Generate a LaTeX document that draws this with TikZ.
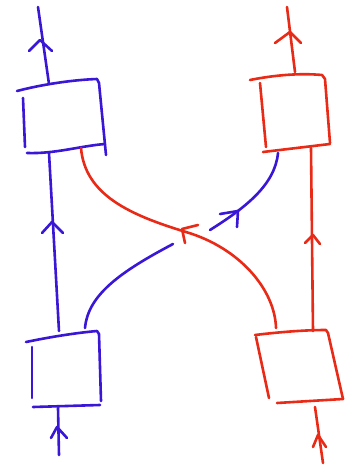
\documentclass[tikz,border=0pt]{standalone}
\definecolor{inkblue}{RGB}{58,22,214}
\definecolor{inkred}{RGB}{232,42,22}
\tikzset{
  pen/.style={line width=2.6pt, line cap=round, line join=round},
  bluepen/.style={pen, draw=inkblue},
  redpen/.style={pen, draw=inkred},
}
\begin{document}
\begin{tikzpicture}[x=1pt,y=-1pt]
\useasboundingbox (0,0) rectangle (353,465);
% named coordinates
\coordinate (bTopEnd) at (38,7);
\coordinate (bTLtop) at (49,84);
\coordinate (bTLbot) at (49,153);
\coordinate (bBLtop) at (59,331);
\coordinate (bBLcurve) at (85,328);
\coordinate (bBLbot) at (58,408);
\coordinate (bBotEnd) at (59,455);
\coordinate (bGapA) at (173,244);
\coordinate (bGapB) at (210,230);
\coordinate (bTRbot) at (278,153);
\coordinate (rTopEnd) at (287,7);
\coordinate (rTRtop) at (295,72);
\coordinate (rTRbot) at (311,148);
\coordinate (rBRtop) at (313,331);
\coordinate (rBRcurve) at (276,328);
\coordinate (rTLcurve) at (81,148);
\coordinate (rBRbot) at (315,407);
\coordinate (rBotEnd) at (323,463);
\coordinate (rMid) at (186,232);

% ---- blue boxes ----
% top-left box
\draw[bluepen] (17,91) .. controls (40,85) and (70,80) .. (97,79) -- (99,83) -- (106,155);
\draw[bluepen] (23,98) -- (25,147);
\draw[bluepen] (27,153) .. controls (55,154) and (80,146) .. (105,144);
% bottom-left box
\draw[bluepen] (26,342) .. controls (50,337) and (75,333) .. (97,331) -- (99,334) -- (101,401);
\draw[bluepen] (32,347) -- (32,398);
\draw[bluepen] (33,407) -- (100,405);

% ---- red boxes ----
% top-right box
\draw[redpen] (250,80) .. controls (275,75) and (300,73) .. (322,75) -- (325,79) -- (330,143);
\draw[redpen] (260,83) -- (266,147);
\draw[redpen] (263,152) -- (330,144);
% bottom-right box
\draw[redpen] (255,335) .. controls (280,332) and (305,330) .. (326,330) -- (328,333) -- (343,399);
\draw[redpen] (256,337) -- (269,398);
\draw[redpen] (277,403) -- (343,399);

% ---- blue strands ----
\draw[bluepen] (bTLtop) -- (bTopEnd);
\draw[bluepen] (29,51) -- (40,40) -- (52,51);
\draw[bluepen] (bBLtop) -- (bTLbot);
\draw[bluepen] (42,233) -- (52,222) -- (63,233);
\draw[bluepen] (bBotEnd) -- (bBLbot);
\draw[bluepen] (51,438) -- (57,427) -- (67,438);
\draw[bluepen] (bBLcurve) .. controls (88,295) and (120,272) .. (bGapA);
\draw[bluepen] (bGapB) .. controls (245,208) and (275,185) .. (bTRbot);
\draw[bluepen] (220,214) -- (238,211) -- (237,227);

% ---- red strands ----
\draw[redpen] (rTRtop) -- (rTopEnd);
\draw[redpen] (275,43) -- (290,32) -- (301,43);
\draw[redpen] (rBRtop) -- (rTRbot);
\draw[redpen] (305,243) -- (313,235) -- (320,244);
\draw[redpen] (rBotEnd) -- (rBRbot);
\draw[redpen] (313,447) -- (318,435) -- (326,447);
\draw[redpen] (rTLcurve) .. controls (85,195) and (130,215) .. (rMid)
  .. controls (240,248) and (275,290) .. (rBRcurve);
\draw[redpen] (198,225) -- (182,229) -- (185,243);
\end{tikzpicture}
\end{document}
